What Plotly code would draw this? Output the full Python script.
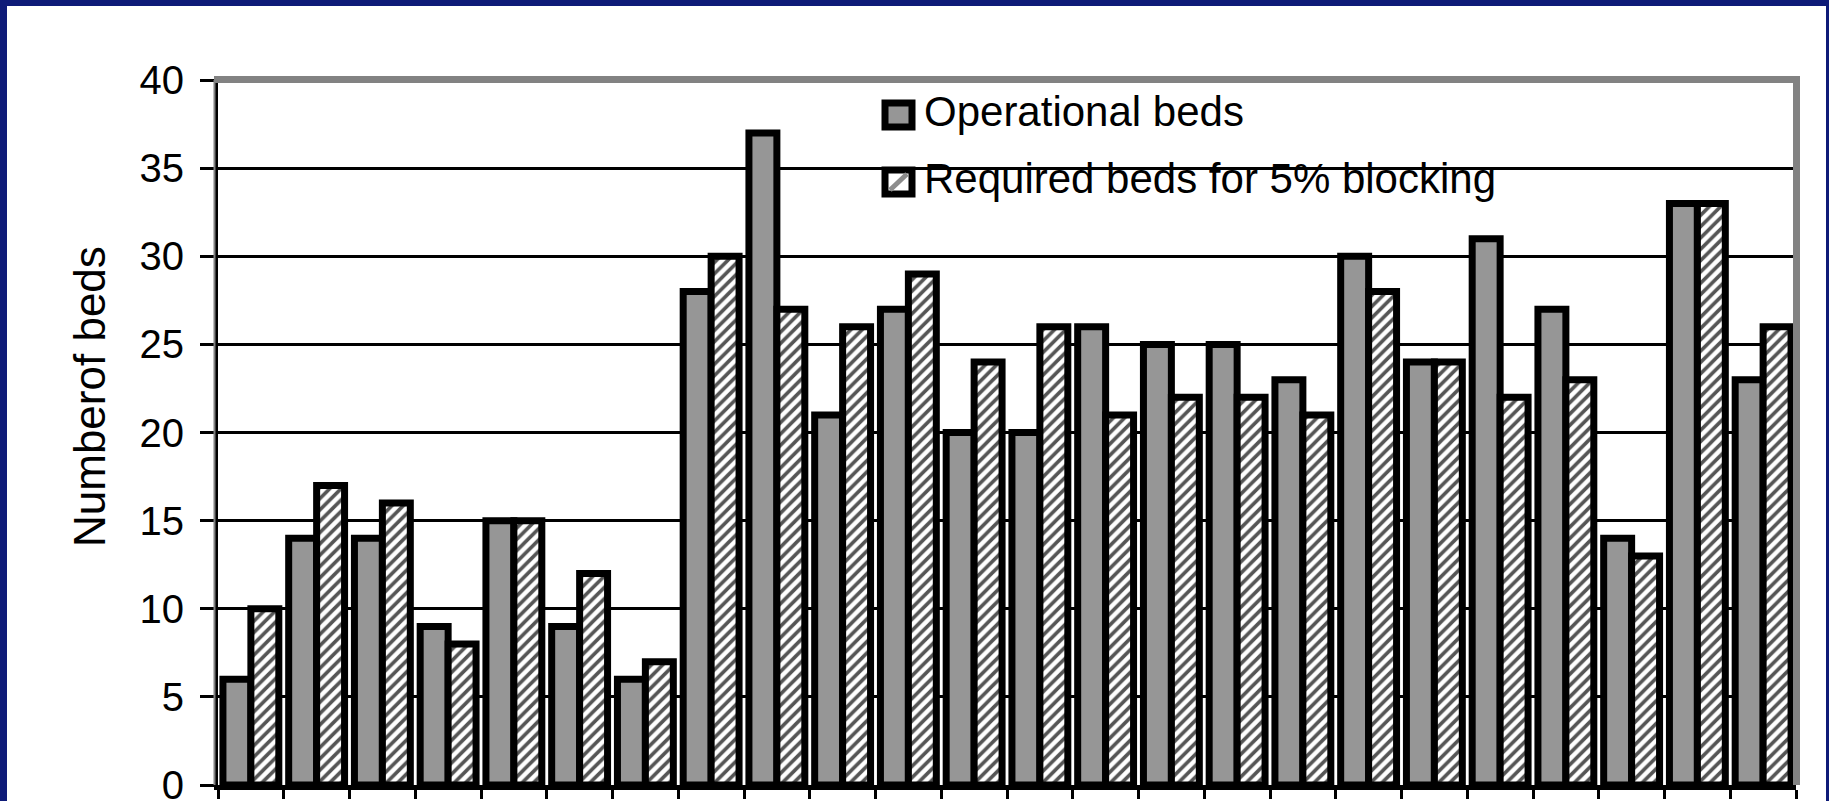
import plotly.graph_objects as go

# ---- data -------------------------------------------------------------
units = [str(i) for i in range(1, 25)]
operational = [6, 14, 14, 9, 15, 9, 6, 28, 37, 21, 27, 20, 20, 26, 25, 25, 23, 30, 24, 31, 27, 14, 33, 23]
required = [10, 17, 16, 8, 15, 12, 7, 30, 27, 26, 29, 24, 26, 21, 22, 22, 21, 28, 24, 22, 23, 13, 33, 26]
y_ticks = [0, 5, 10, 15, 20, 25, 30, 35, 40]
series_names = ["Operational beds", "Required beds for 5% blocking"]
y_title = "Numberof beds"

# ---- page geometry (pixels) ------------------------------------------
W, H = 1829, 801
L, R, T, B = 218, 33, 80, 16
PW, PH = W - L - R, H - T - B
FONT = "Liberation Sans, Arial, Helvetica, sans-serif"
NAVY = "#0e1b78"
GREY_FILL = "#969696"
FRAME_GREY = "#828282"
OUTLINE = 7


def px(x):
    """pixel x -> paper x"""
    return (x - L) / PW


def py(y):
    """pixel y (from top) -> paper y"""
    return (H - B - y) / PH


fig = go.Figure()
fig.add_trace(go.Bar(
    x=units, y=operational, name=series_names[0], showlegend=False,
    marker=dict(color=GREY_FILL, line=dict(color="black", width=OUTLINE)),
))
fig.add_trace(go.Bar(
    x=units, y=required, name=series_names[1], showlegend=False,
    marker=dict(
        color="white",
        pattern=dict(shape="/", fgcolor="#555555", bgcolor="white",
                     size=8, solidity=0.45, fillmode="replace"),
        line=dict(color="black", width=OUTLINE),
    ),
))

shapes = [
    # white slide panel inside the navy border
    dict(type="rect", xref="paper", yref="paper", layer="below",
         x0=px(7), x1=px(1826), y0=py(820), y1=py(6),
         fillcolor="white", line=dict(width=0)),
    # legend background, hides the gridline behind it
    dict(type="rect", xref="paper", yref="paper", layer="between",
         x0=px(815), x1=px(1561), y0=py(222), y1=py(84),
         fillcolor="white", line=dict(width=0)),
    # grey plot-area frame: top, right, and thin strip left of the axis
    dict(type="line", xref="paper", yref="paper", layer="above",
         x0=px(214), x1=px(1800), y0=py(79.5), y1=py(79.5),
         line=dict(color=FRAME_GREY, width=7)),
    dict(type="line", xref="paper", yref="paper", layer="above",
         x0=px(1796.5), x1=px(1796.5), y0=py(76), y1=py(785),
         line=dict(color=FRAME_GREY, width=7)),
    dict(type="line", xref="paper", yref="paper", layer="above",
         x0=px(214.5), x1=px(214.5), y0=py(80), y1=py(785),
         line=dict(color=FRAME_GREY, width=2)),
    # legend keys
    dict(type="rect", xref="paper", yref="paper", layer="above",
         x0=px(885), x1=px(912), y0=py(127), y1=py(103),
         fillcolor=GREY_FILL, line=dict(color="black", width=7)),
    dict(type="rect", xref="paper", yref="paper", layer="above",
         x0=px(885), x1=px(912), y0=py(194), y1=py(170),
         fillcolor="white", line=dict(color="black", width=7)),
    dict(type="line", xref="paper", yref="paper", layer="above",
         x0=px(890), x1=px(907), y0=py(190), y1=py(174),
         line=dict(color="#8c8c8c", width=5)),
]

annotations = [
    dict(text=series_names[0], xref="paper", yref="paper",
         x=px(922), y=py(112), xanchor="left", yanchor="middle",
         showarrow=False, font=dict(family=FONT, size=42, color="black")),
    dict(text=series_names[1], xref="paper", yref="paper",
         x=px(922), y=py(178), xanchor="left", yanchor="middle",
         showarrow=False, font=dict(family=FONT, size=42, color="black")),
    dict(text=y_title, xref="paper", yref="paper",
         x=px(89), y=py(397), xanchor="center", yanchor="middle",
         textangle=-90, showarrow=False,
         font=dict(family=FONT, size=44, color="black")),
]

fig.update_layout(
    width=W, height=H,
    margin=dict(l=L, r=R, t=T, b=B, autoexpand=False),
    paper_bgcolor=NAVY, plot_bgcolor="white",
    barmode="group", bargap=0.15, bargroupgap=0,
    font=dict(family=FONT, color="black"),
    shapes=shapes, annotations=annotations,
    showlegend=False,
    xaxis=dict(
        type="category", range=[-0.5, len(units) - 0.5],
        tickson="boundaries", ticks="outside", ticklen=9, tickwidth=3,
        tickcolor="black", showline=True, linecolor="black", linewidth=5,
        showticklabels=False, showgrid=False, zeroline=False,
    ),
    yaxis=dict(
        range=[0, 40], tickvals=y_ticks, ticks="outside", ticklen=14,
        tickwidth=3, tickcolor="black", showline=True, linecolor="black",
        linewidth=4, showgrid=True, gridcolor="black", gridwidth=3,
        zeroline=False, tickfont=dict(family=FONT, size=40, color="black"),
        ticklabelstandoff=8, ticklabeloverflow="allow",
    ),
)

fig.write_html("out.html")
